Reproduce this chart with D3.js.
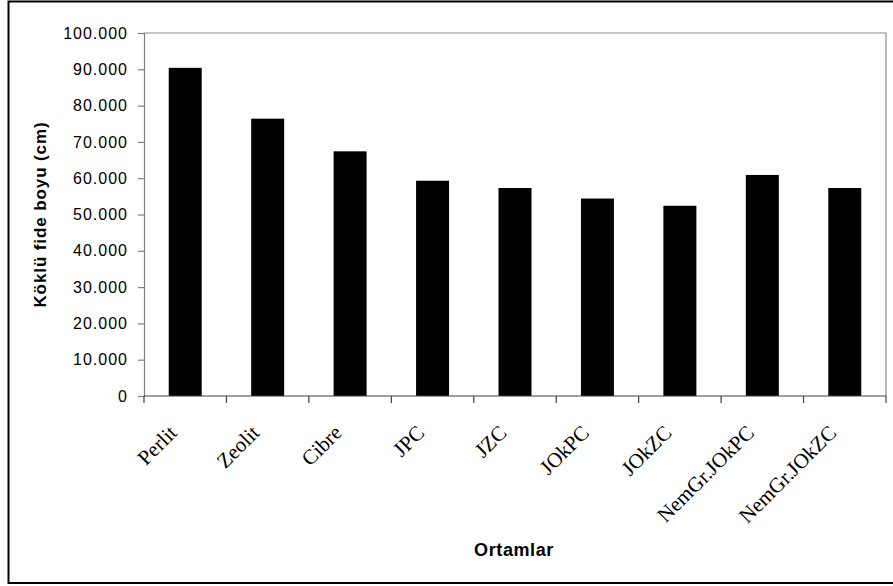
<!DOCTYPE html>
<html><head><meta charset="utf-8">
<script src="https://cdn.jsdelivr.net/npm/d3@7"></script>
<style>body{margin:0;background:#fff}svg{display:block}</style>
</head><body>
<script>
const categories = ["Perlit","Zeolit","Cibre","JPC","JZC","JOkPC","JOkZC","NemGr.JOkPC","NemGr.JOkZC"];
const values = [90.4, 76.4, 67.4, 59.3, 57.3, 54.4, 52.4, 60.9, 57.3];
const yTicks = [0,10,20,30,40,50,60,70,80,90,100];
const yTitle = "Köklü fide boyu (cm)";
const xTitle = "Ortamlar";

const W = 893, H = 586;
const svg = d3.select("body").append("svg").attr("width", W).attr("height", H);
svg.append("rect").attr("width", W).attr("height", H).attr("fill", "#fff");

// outer chart border (right side runs off the picture)
svg.append("rect").attr("x", 8.5).attr("y", 1.5).attr("width", 900).attr("height", 581.5)
  .attr("fill", "none").attr("stroke", "#000").attr("stroke-width", 2);

const L = 144, R = 886, T = 33, B = 396;
const x = d3.scaleBand().domain(categories).range([L, R]).paddingInner(0.6).paddingOuter(0.3);
const xc = d3.scaleBand().domain(categories).range([L, R]);
const y = d3.scaleLinear().domain([0, 100]).range([B, T]);

// plot frame top/right
svg.append("path").attr("d", `M${L},${T}H${R}V${B}`).attr("fill", "none").attr("stroke", "#8c8c8c").attr("stroke-width", 1.2);

// bars
svg.append("g").selectAll("rect").data(values).join("rect")
  .attr("x", (d, i) => x(categories[i]))
  .attr("width", x.bandwidth())
  .attr("y", d => y(d))
  .attr("height", d => y(0) - y(d))
  .attr("fill", "#000");

// y axis
const yAxis = svg.append("g").attr("transform", `translate(${L},0)`)
  .call(d3.axisLeft(y).tickValues(yTicks).tickSize(6).tickPadding(10)
    .tickFormat(d => d === 0 ? "0" : d3.format(".3f")(d)));
yAxis.select(".domain").attr("stroke", "#808080").attr("stroke-width", 1.2);
yAxis.selectAll(".tick line").attr("stroke", "#808080").attr("stroke-width", 1.2);
yAxis.selectAll("text").attr("font-family", "Liberation Sans, Arial, sans-serif")
  .attr("font-size", 16).attr("letter-spacing", "1px").attr("fill", "#000");

// x axis with ticks at category boundaries
const xAxisG = svg.append("g").attr("transform", `translate(0,${B})`);
xAxisG.append("line").attr("x1", L).attr("x2", R).attr("stroke", "#404040").attr("stroke-width", 1.2);
const bounds = categories.map(c => xc(c)).concat([R]);
xAxisG.selectAll("line.t").data(bounds).join("line").attr("class", "t")
  .attr("x1", d => d).attr("x2", d => d).attr("y1", 0).attr("y2", 7)
  .attr("stroke", "#404040").attr("stroke-width", 1.2);

// category labels
svg.append("g").selectAll("text").data(categories).join("text")
  .attr("transform", d => `translate(${xc(d) + xc.bandwidth() / 2 - 7},${B + 38}) rotate(-45)`)
  .attr("text-anchor", "end")
  .attr("font-family", "Liberation Serif, Times New Roman, serif")
  .attr("font-size", 21)
  .attr("fill", "#000")
  .text(d => d);

// y title
svg.append("text")
  .attr("transform", `translate(46,${(T + B) / 2}) rotate(-90)`)
  .attr("text-anchor", "middle")
  .attr("font-family", "Liberation Sans, Arial, sans-serif")
  .attr("font-weight", "bold").attr("font-size", 17).attr("letter-spacing", "0.9px")
  .text(yTitle);

// x title
svg.append("text")
  .attr("x", 514).attr("y", 556)
  .attr("text-anchor", "middle")
  .attr("font-family", "Liberation Sans, Arial, sans-serif")
  .attr("font-weight", "bold").attr("font-size", 18).attr("letter-spacing", "0.6px")
  .text(xTitle);
</script>
</body></html>
